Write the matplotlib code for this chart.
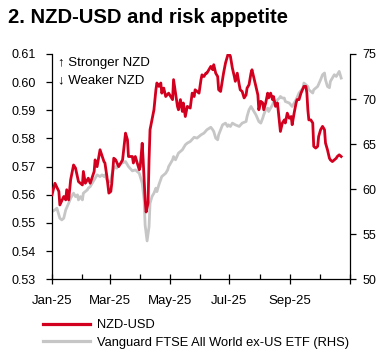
import matplotlib
matplotlib.use("Agg")
import matplotlib.pyplot as plt
import matplotlib.dates as mdates
import numpy as np
import pandas as pd

plt.rcParams['font.family'] = ['Liberation Sans', 'DejaVu Sans']

# NZD-USD (LHS): day offsets from 1 Jan 2025 and values
nzd_days = [0, 3, 7, 8, 12, 14, 15, 17, 19, 22, 24, 27, 31, 32, 34, 37, 39, 43, 44, 46,
            49, 53, 54, 56, 58, 60, 61, 63, 65, 68, 72, 75, 77, 78, 82, 83, 85, 89, 90, 92,
            93, 95, 96, 98, 99, 100, 104, 106, 107, 109, 111, 112, 114, 116, 119, 123, 124, 126, 128, 129,
            131, 133, 134, 136, 138, 141, 143, 145, 146, 150, 152, 153, 155, 157, 158, 160, 162, 164, 165, 167,
            169, 170, 172, 174, 175, 177, 180, 182, 184, 186, 187, 189, 191, 192, 194, 196, 198, 199, 201, 203,
            204, 206, 208, 210, 211, 213, 215, 216, 218, 220, 221, 223, 225, 226, 228, 230, 232, 233, 235, 237,
            238, 240, 242, 244, 245, 247, 249, 250, 252, 254, 257, 259, 260, 261, 262, 264, 266, 267, 269, 271,
            272, 274, 276, 278, 279, 281, 283, 284, 286, 288, 290, 291, 293, 295]
nzd_vals = [0.5600, 0.5641, 0.5612, 0.5564, 0.5594, 0.5582, 0.5618, 0.5582, 0.5653, 0.5706,
            0.5695, 0.5647, 0.5635, 0.5683, 0.5641, 0.5659, 0.5641, 0.5683, 0.5724, 0.5700,
            0.5760, 0.5718, 0.5713, 0.5665, 0.5606, 0.5612, 0.5641, 0.5730, 0.5724, 0.5700,
            0.5724, 0.5819, 0.5795, 0.5736, 0.5736, 0.5713, 0.5736, 0.5689, 0.5700, 0.5783,
            0.5724, 0.5582, 0.5539, 0.5571, 0.5724, 0.5831, 0.5902, 0.5973, 0.5997, 0.5985,
            0.5997, 0.5961, 0.5979, 0.5949, 0.5961, 0.5938, 0.6009, 0.5961, 0.5914, 0.5902,
            0.5938, 0.5896, 0.5926, 0.5878, 0.5914, 0.5908, 0.5961, 0.5949, 0.5973, 0.5961,
            0.6009, 0.6026, 0.6020, 0.6032, 0.6032, 0.6044, 0.6056, 0.6044, 0.6062, 0.6032,
            0.6020, 0.5973, 0.5967, 0.6009, 0.6032, 0.6068, 0.6104, 0.6092, 0.6050, 0.6020,
            0.6003, 0.6032, 0.5991, 0.5973, 0.5967, 0.5944, 0.5955, 0.5979, 0.5991, 0.6032,
            0.6044, 0.6015, 0.5985, 0.5955, 0.5902, 0.5932, 0.5926, 0.5902, 0.5926, 0.5961,
            0.5944, 0.5961, 0.5938, 0.5949, 0.5914, 0.5926, 0.5860, 0.5825, 0.5855, 0.5866,
            0.5855, 0.5890, 0.5872, 0.5878, 0.5849, 0.5890, 0.5926, 0.5938, 0.5938, 0.5961,
            0.5985, 0.5985, 0.5962, 0.5902, 0.5866, 0.5866, 0.5855, 0.5772, 0.5766, 0.5772,
            0.5807, 0.5831, 0.5843, 0.5831, 0.5784, 0.5760, 0.5730, 0.5724, 0.5718, 0.5724,
            0.5730, 0.5736, 0.5742, 0.5736]

# Vanguard FTSE All World ex-US ETF (RHS)
etf_days = [0, 3, 5, 8, 10, 12, 14, 17, 19, 22, 24, 26, 27, 29, 31, 32, 36, 37, 39, 43,
            46, 49, 51, 53, 54, 56, 58, 60, 61, 63, 65, 66, 68, 72, 75, 78, 82, 85, 89, 92,
            94, 95, 97, 99, 100, 102, 104, 106, 107, 109, 112, 116, 118, 119, 123, 124, 126, 129, 133, 136,
            138, 141, 145, 148, 152, 155, 158, 162, 164, 165, 167, 169, 170, 174, 177, 179, 180, 182, 184, 187,
            191, 194, 198, 199, 201, 203, 204, 208, 211, 213, 215, 216, 218, 220, 221, 225, 226, 228, 230, 232,
            233, 235, 237, 238, 242, 245, 247, 249, 252, 256, 257, 261, 262, 266, 267, 271, 274, 276, 278, 279,
            281, 283, 284, 286, 288, 290, 291, 293, 295]
etf_vals = [57.51, 57.70, 57.89, 56.78, 56.59, 56.78, 57.70, 58.44, 59.00, 59.56,
            59.18, 59.37, 58.81, 59.18, 58.81, 59.56, 59.92, 60.11, 60.29, 61.03,
            61.59, 61.40, 61.59, 61.40, 61.59, 61.03, 60.84, 60.84, 61.59, 62.33,
            62.51, 62.33, 62.70, 62.92, 63.07, 62.51, 62.03, 62.14, 61.77, 60.67,
            58.81, 56.03, 54.26, 55.84, 58.44, 59.18, 59.56, 60.11, 59.73, 60.48,
            61.40, 61.77, 62.14, 62.51, 63.26, 63.62, 63.26, 64.00, 64.37, 64.92,
            65.11, 65.29, 65.76, 65.67, 66.03, 66.22, 66.59, 66.87, 66.59, 66.40,
            65.67, 65.48, 66.03, 67.14, 67.33, 66.96, 67.14, 66.96, 67.33, 67.14,
            66.96, 67.33, 67.51, 68.07, 68.81, 69.18, 69.00, 68.26, 67.51, 67.33,
            67.89, 68.26, 68.81, 69.00, 68.62, 69.37, 69.73, 69.56, 69.92, 70.11,
            70.29, 70.11, 70.11, 69.73, 69.56, 69.18, 69.56, 69.92, 70.67, 71.22,
            71.78, 71.40, 71.03, 70.67, 71.03, 71.40, 72.14, 72.70, 72.89, 72.14,
            71.40, 71.26, 71.96, 72.33, 72.70, 72.51, 72.70, 73.07, 72.33]

left_ticks = [0.53, 0.54, 0.55, 0.56, 0.57, 0.58, 0.59, 0.60, 0.61]
right_ticks = [50, 55, 60, 65, 70, 75]

start = pd.Timestamp("2025-01-01")
nzd_dates = start + pd.to_timedelta(nzd_days, unit="D")
etf_dates = start + pd.to_timedelta(etf_days, unit="D")

RED = "#d2001e"
GREY = "#c6c6c6"
FS = 9.5

fig = plt.figure(figsize=(3.79, 3.52), dpi=100)
ax = fig.add_axes([52/379, 1-279.3/352, (350-52)/379, (279.3-54)/352])
ax2 = ax.twinx()

ax2.plot(etf_dates, etf_vals, color=GREY, lw=2.0, zorder=1)
ax.plot(nzd_dates, nzd_vals, color=RED, lw=2.0, zorder=3)
ax.set_zorder(ax2.get_zorder() + 1)
ax.patch.set_visible(False)

ax.set_ylim(0.53, 0.61)
ax.set_yticks(left_ticks)
ax.set_yticklabels([f"{v:.2f}" for v in left_ticks])
ax2.set_ylim(50, 75)
ax2.set_yticks(right_ticks)

ax.set_xlim(pd.Timestamp("2025-01-01"), pd.Timestamp("2025-11-01"))
ax.xaxis.set_major_locator(mdates.MonthLocator(bymonth=[1, 3, 5, 7, 9, 11]))
ax.xaxis.set_minor_locator(mdates.MonthLocator(bymonth=[2, 4, 6, 8, 10]))
ax.xaxis.set_major_formatter(plt.FuncFormatter(
    lambda x, p: "" if mdates.num2date(x).month == 11 else mdates.num2date(x).strftime("%b-%y")))

for a in (ax, ax2):
    a.spines['top'].set_visible(False)
    for s in a.spines.values():
        s.set_linewidth(0.9)
ax.spines['right'].set_visible(False)
ax2.spines['left'].set_visible(False)
ax2.spines['bottom'].set_visible(False)

ax.tick_params(axis='y', direction='out', length=4, width=0.9, labelsize=9, pad=7.5)
ax2.tick_params(axis='y', direction='out', length=4, width=0.9, labelsize=9, pad=5)
ax.tick_params(axis='x', which='major', direction='inout', length=7, width=0.9, labelsize=FS, pad=8)
ax.tick_params(axis='x', which='minor', direction='in', length=3.5, width=0.9)

ax.text(0.02, 0.985, "↑ Stronger NZD\n↓ Weaker NZD", transform=ax.transAxes,
        fontsize=FS, va='top', ha='left', linespacing=1.5)

fig.text(8/379, 1-17.5/352, "2. NZD-USD and risk appetite", fontsize=14.6,
         fontweight='bold', va='center', ha='left')

from matplotlib.lines import Line2D
handles = [Line2D([], [], color=RED, lw=2.3), Line2D([], [], color=GREY, lw=2.3)]
fig.legend(handles, ["NZD-USD", "Vanguard FTSE All World ex-US ETF (RHS)"],
           loc='upper left', bbox_to_anchor=(43/379, 1-319/352), frameon=False,
           fontsize=9.3, handlelength=3.6, handletextpad=0.55, labelspacing=0.45,
           borderpad=0, borderaxespad=0)

fig.savefig("out.png", dpi=100)
